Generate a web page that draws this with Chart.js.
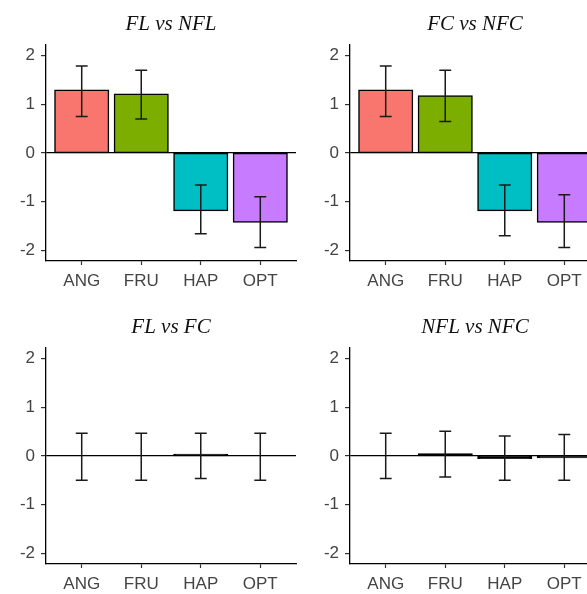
<!DOCTYPE html>
<html>
<head>
<meta charset="utf-8">
<script src="https://cdn.jsdelivr.net/npm/chart.js"></script>
<style>
  body { margin: 0; background: #fff; width: 587px; height: 594px; overflow: hidden; position: relative; }
  .panel { position: absolute; width: 300px; height: 303px; }
</style>
</head>
<body>
<div class="panel" style="left:0;top:0"><canvas id="p1" width="300" height="303"></canvas></div>
<div class="panel" style="left:304px;top:0"><canvas id="p2" width="300" height="303"></canvas></div>
<div class="panel" style="left:0;top:303px"><canvas id="p3" width="300" height="303"></canvas></div>
<div class="panel" style="left:304px;top:303px"><canvas id="p4" width="300" height="303"></canvas></div>
<script>
// categories and tick values
const categories = ['ANG', 'FRU', 'HAP', 'OPT'];
const yTicks = [-2, -1, 0, 1, 2];

// FL vs NFL
const flNflMean  = [1.29, 1.21, -1.18, -1.42];
const flNflUpper = [1.79, 1.70, -0.66, -0.90];
const flNflLower = [0.75, 0.70, -1.66, -1.94];

// FC vs NFC
const fcNfcMean  = [1.29, 1.17, -1.18, -1.42];
const fcNfcUpper = [1.79, 1.70, -0.66, -0.86];
const fcNfcLower = [0.75, 0.65, -1.70, -1.94];

// FL vs FC
const flFcMean  = [0.00, 0.00, 0.03, 0.00];
const flFcUpper = [0.47, 0.47, 0.47, 0.47];
const flFcLower = [-0.50, -0.50, -0.46, -0.50];

// NFL vs NFC
const nflNfcMean  = [0.00, 0.04, -0.045, -0.03];
const nflNfcUpper = [0.47, 0.51, 0.41, 0.44];
const nflNfcLower = [-0.46, -0.43, -0.50, -0.50];

const barColors = ['#F8766D', '#7CAE00', '#00BFC4', '#C77CFF'];

// draws error bars through the chart's own scales
const errorBars = {
  id: 'errorBars',
  afterDatasetsDraw(chart) {
    const ds = chart.data.datasets[0];
    const x = chart.scales.x;
    const y = chart.scales.y;
    const ctx = chart.ctx;
    ctx.save();
    ctx.strokeStyle = '#1a1a1a';
    ctx.lineWidth = 1.5;
    categories.forEach((c, i) => {
      const cx = x.getPixelForValue(i);
      const half = x.getPixelForValue(i + 0.1) - cx;
      const yTop = y.getPixelForValue(ds.upper[i]);
      const yBot = y.getPixelForValue(ds.lower[i]);
      ctx.beginPath();
      ctx.moveTo(cx, yTop); ctx.lineTo(cx, yBot);
      ctx.moveTo(cx - half, yTop); ctx.lineTo(cx + half, yTop);
      ctx.moveTo(cx - half, yBot); ctx.lineTo(cx + half, yBot);
      ctx.stroke();
    });
    ctx.restore();
  }
};

function makePanel(id, title, mean, upper, lower) {
  const tickFont = { family: 'Liberation Sans', size: 17 };
  return new Chart(document.getElementById(id), {
    type: 'bar',
    data: {
      datasets: [{
        data: mean.map((v, i) => ({ x: i, y: v })),
        upper: upper,
        lower: lower,
        // very flat bars are all outline in the original
        backgroundColor: c => (c.raw && Math.abs(c.raw.y) < 0.1 ? '#000' : barColors[c.dataIndex]),
        borderColor: '#000',
        borderWidth: 1.5,
        borderSkipped: false,
        inflateAmount: 0.75,
        barPercentage: 0.9,
        categoryPercentage: 1
      }]
    },
    options: {
      responsive: false,
      animation: false,
      devicePixelRatio: 1,
      layout: { padding: { left: 0, right: 4, top: 0, bottom: 0 } },
      plugins: { legend: { display: false }, tooltip: { enabled: false } },
      scales: {
        x: {
          type: 'linear',
          position: 'bottom',
          min: -0.6,
          max: 3.6,
          offset: false,
          afterBuildTicks: s => { s.ticks = categories.map((c, i) => ({ value: i })); },
          afterFit: s => { s.height = 42; },
          grid: { display: true, offset: false, drawOnChartArea: false, drawTicks: true, tickLength: 4, tickColor: '#333', tickWidth: 1.2 },
          border: { display: true, color: '#000', width: 1.3 },
          ticks: { callback: v => categories[v], font: tickFont, color: '#444', padding: 6, maxRotation: 0, autoSkip: false }
        },
        xTop: {
          type: 'linear',
          position: 'top',
          min: -0.6,
          max: 3.6,
          afterFit: s => { s.height = 45; },
          grid: { display: false },
          border: { display: false },
          ticks: { display: false },
          title: {
            display: true,
            text: title,
            color: '#111',
            font: { family: 'Liberation Serif', style: 'italic', size: 21 },
            padding: { top: 11.5, bottom: 0 }
          }
        },
        y: {
          min: -2.22,
          max: 2.22,
          afterBuildTicks: s => { s.ticks = yTicks.map(v => ({ value: v })); },
          afterFit: s => { s.width = 46; },
          grid: {
            drawTicks: true,
            tickLength: 5,
            tickColor: '#333',
            tickWidth: 1.2,
            color: c => (c.tick && c.tick.value === 0 ? '#000' : 'rgba(0,0,0,0)'),
            lineWidth: 1.2
          },
          border: { display: true, color: '#000', width: 1.3 },
          ticks: { font: tickFont, color: '#444', padding: 6 }
        }
      }
    },
    plugins: [errorBars]
  });
}

makePanel('p1', 'FL vs NFL', flNflMean, flNflUpper, flNflLower);
makePanel('p2', 'FC vs NFC', fcNfcMean, fcNfcUpper, fcNfcLower);
makePanel('p3', 'FL vs FC', flFcMean, flFcUpper, flFcLower);
makePanel('p4', 'NFL vs NFC', nflNfcMean, nflNfcUpper, nflNfcLower);
</script>
</body>
</html>
